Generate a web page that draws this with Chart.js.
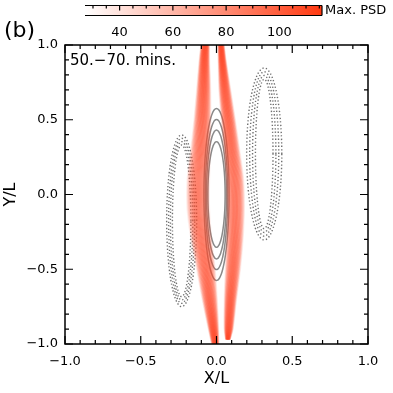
<!DOCTYPE html>
<html>
<head>
<meta charset="utf-8">
<script src="https://cdn.jsdelivr.net/npm/chart.js@4"></script>
<style>
  html, body { margin: 0; padding: 0; background: #fff; }
  #wrap { width: 393px; height: 393px; }
</style>
</head>
<body>
<div id="wrap"><canvas id="psd"></canvas></div>
<script>
// datos
const axisTicks = [-1.0, -0.5, 0.0, 0.5, 1.0];
const cbarTicks = [40, 60, 80, 100];
const cbarMin = 27;
const cbarMax = 116;

// contornos solidos, centrados en (0,0)
const solidA = [0.083, 0.074, 0.066, 0.057];
const solidB = [0.575, 0.502, 0.431, 0.353];

// contornos punteados
const dotLeftCenter = [-0.23, -0.176];
const dotLeftA = [0.099, 0.086, 0.074, 0.061];
const dotLeftB = [0.574, 0.552, 0.530, 0.507];
const dotRightCenter = [0.315, 0.271];
const dotRightA = [0.116, 0.096, 0.077, 0.058];
const dotRightB = [0.575, 0.550, 0.525, 0.500];

// franja izquierda de PSD maxima
const leftY = [1.0, 0.9, 0.7, 0.5, 0.3, 0.1, -0.1, -0.3, -0.5, -0.7, -0.9, -1.0];
const leftX = [-0.075, -0.08, -0.085, -0.093, -0.105, -0.12, -0.12, -0.10, -0.07, -0.045, -0.02, -0.008];
const leftW = [0.028, 0.035, 0.048, 0.058, 0.068, 0.078, 0.078, 0.072, 0.064, 0.052, 0.035, 0.024];

// franja derecha
const rightY = [1.0, 0.9, 0.7, 0.5, 0.3, 0.1, -0.1, -0.3, -0.5, -0.7, -0.9, -0.97];
const rightX = [0.03, 0.037, 0.055, 0.078, 0.10, 0.12, 0.125, 0.12, 0.108, 0.092, 0.08, 0.075];
const rightW = [0.02, 0.026, 0.04, 0.048, 0.055, 0.062, 0.062, 0.058, 0.052, 0.042, 0.03, 0.014];

const minus = s => s.replace("-", "\u2212");

// una franja = varias lineas desplazadas con alfa decreciente
const streakLines = (ys, xs, ws, peak) => {
  const sets = [];
  for (let i = -12; i <= 12; i++) {
    const k = i / 12;
    const a = peak * Math.pow(1 - k * k, 0.9);
    sets.push({
      data: ys.map((y, j) => ({ x: xs[j] + k * ws[j], y: y })),
      borderColor: `rgba(255,72,40,${a.toFixed(3)})`,
      borderWidth: 2,
      tension: 0.3
    });
  }
  return sets;
};

const ellipse = (cx, cy, a, b) => {
  const pts = [];
  for (let t = 0; t <= 360; t += 5) {
    const r = (t * Math.PI) / 180;
    pts.push({ x: cx + a * Math.cos(r), y: cy + b * Math.sin(r) });
  }
  return pts;
};

const solidSets = solidA.map((a, i) => ({
  data: ellipse(0, 0, a, solidB[i]),
  borderColor: "#8a8a8a",
  borderWidth: 1.5,
  tension: 0.4
}));

const dotSets = (c, as, bs) =>
  as.map((a, i) => ({
    data: ellipse(c[0], c[1], a, bs[i]),
    borderColor: "#707070",
    borderWidth: 1.4,
    borderDash: [1.3, 2.2],
    tension: 0.4
  }));

// marco, ticks interiores, barra de color y textos
const decor = {
  id: "decor",
  afterDraw(chart) {
    const { ctx, chartArea: ca, scales } = chart;
    ctx.save();
    ctx.strokeStyle = "#000";
    ctx.lineWidth = 1.5;
    ctx.strokeRect(ca.left, ca.top, ca.right - ca.left, ca.bottom - ca.top);
    ctx.lineWidth = 1.2;
    ctx.beginPath();
    for (let i = -10; i <= 10; i++) {
      const v = i / 10;
      const len = i % 5 === 0 ? 8 : 4;
      const px = scales.x.getPixelForValue(v);
      const py = scales.y.getPixelForValue(v);
      ctx.moveTo(px, ca.bottom); ctx.lineTo(px, ca.bottom - len);
      ctx.moveTo(px, ca.top); ctx.lineTo(px, ca.top + len);
      ctx.moveTo(ca.left, py); ctx.lineTo(ca.left + len, py);
      ctx.moveTo(ca.right, py); ctx.lineTo(ca.right - len, py);
    }
    ctx.stroke();

    // barra de color
    const bx0 = 85, bx1 = 322, by0 = 5.5, by1 = 15.5;
    const grad = ctx.createLinearGradient(bx0, 0, bx1, 0);
    grad.addColorStop(0, "#ffffff");
    grad.addColorStop(1, "#ff3a12");
    ctx.fillStyle = grad;
    ctx.fillRect(bx0, by0, bx1 - bx0, by1 - by0);
    ctx.lineWidth = 1.2;
    ctx.beginPath();
    ctx.moveTo(bx0, by0); ctx.lineTo(bx1, by0);
    ctx.moveTo(bx0, by1); ctx.lineTo(bx1, by1);
    ctx.moveTo(bx1, by0); ctx.lineTo(bx1, by1);
    const cbPx = v => bx0 + ((v - cbarMin) / (cbarMax - cbarMin)) * (bx1 - bx0);
    for (let v = 30; v <= cbarMax; v += 5) {
      const len = v % 20 === 0 ? 5 : 3;
      ctx.moveTo(cbPx(v), by0); ctx.lineTo(cbPx(v), by0 + len);
    }
    ctx.stroke();

    ctx.fillStyle = "#000";
    ctx.font = "13px 'DejaVu Sans'";
    ctx.textAlign = "center";
    ctx.textBaseline = "middle";
    cbarTicks.forEach(v => ctx.fillText(String(v), cbPx(v), 33));
    ctx.textAlign = "left";
    ctx.fillText("Max. PSD", 325, 11);

    ctx.font = "22px 'DejaVu Sans'";
    ctx.fillText("(b)", 4, 31);

    ctx.font = "15px 'DejaVu Sans'";
    ctx.textBaseline = "alphabetic";
    ctx.fillText("50.\u221270. mins.", 70, 65);
    ctx.restore();
  }
};

new Chart(document.getElementById("psd"), {
  type: "scatter",
  data: {
    datasets: [
      ...streakLines(leftY, leftX, leftW, 0.45),
      ...streakLines(rightY, rightX, rightW, 0.42),
      ...solidSets,
      ...dotSets(dotLeftCenter, dotLeftA, dotLeftB),
      ...dotSets(dotRightCenter, dotRightA, dotRightB)
    ]
  },
  options: {
    responsive: true,
    maintainAspectRatio: false,
    animation: false,
    showLine: true,
    elements: { point: { radius: 0 } },
    layout: { padding: { left: 0, right: 25, top: 45, bottom: 0 } },
    plugins: { legend: { display: false }, tooltip: { enabled: false } },
    scales: {
      x: {
        min: -1,
        max: 1,
        afterBuildTicks: s => { s.ticks = axisTicks.map(v => ({ value: v })); },
        afterFit: s => { s.height = 49; },
        grid: { display: false, drawTicks: false },
        border: { display: false },
        ticks: {
          padding: 10,
          color: "#000",
          font: { family: "DejaVu Sans", size: 13 },
          callback: v => minus(v.toFixed(1))
        },
        title: {
          display: true,
          text: "X/L",
          color: "#000",
          font: { family: "DejaVu Sans", size: 16 },
          padding: { top: 0, bottom: 5 }
        }
      },
      y: {
        min: -1,
        max: 1,
        afterBuildTicks: s => { s.ticks = axisTicks.map(v => ({ value: v })); },
        afterFit: s => { s.width = 65; },
        grid: { display: false, drawTicks: false },
        border: { display: false },
        ticks: {
          padding: 7,
          color: "#000",
          font: { family: "DejaVu Sans", size: 13 },
          callback: v => minus(v.toFixed(1))
        },
        title: {
          display: true,
          text: "Y/L",
          color: "#000",
          font: { family: "DejaVu Sans", size: 16 },
          padding: { top: 1, bottom: 0 }
        }
      }
    }
  },
  plugins: [decor]
});
</script>
</body>
</html>
